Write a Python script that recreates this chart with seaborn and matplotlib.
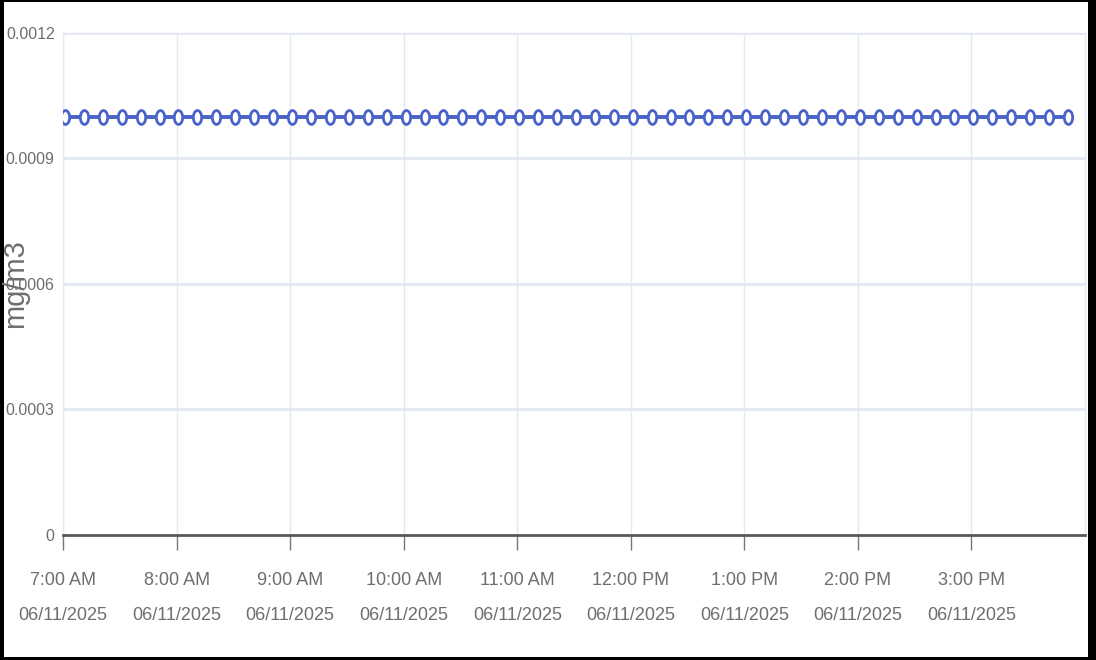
import pandas as pd
import seaborn as sns
import matplotlib.pyplot as plt
from matplotlib.path import Path
from matplotlib.patches import Rectangle

# readings, every 10 minutes on 06/11/2025
times = ['07:01', '07:11', '07:21', '07:31', '07:41', '07:51',
         '08:01', '08:11', '08:21', '08:31', '08:41', '08:51',
         '09:01', '09:11', '09:21', '09:31', '09:41', '09:51',
         '10:01', '10:11', '10:21', '10:31', '10:41', '10:51',
         '11:01', '11:11', '11:21', '11:31', '11:41', '11:51',
         '12:01', '12:11', '12:21', '12:31', '12:41', '12:51',
         '13:01', '13:11', '13:21', '13:31', '13:41', '13:51',
         '14:01', '14:11', '14:21', '14:31', '14:41', '14:51',
         '15:01', '15:11', '15:21', '15:31', '15:41', '15:51']
values = [0.001, 0.001, 0.001, 0.001, 0.001, 0.001,
          0.001, 0.001, 0.001, 0.001, 0.001, 0.001,
          0.001, 0.001, 0.001, 0.001, 0.001, 0.001,
          0.001, 0.001, 0.001, 0.001, 0.001, 0.001,
          0.001, 0.001, 0.001, 0.001, 0.001, 0.001,
          0.001, 0.001, 0.001, 0.001, 0.001, 0.001,
          0.001, 0.001, 0.001, 0.001, 0.001, 0.001,
          0.001, 0.001, 0.001, 0.001, 0.001, 0.001,
          0.001, 0.001, 0.001, 0.001, 0.001, 0.001]
day = '2025-06-11'
x_range = ['07:00', '16:00']
y_ticks = [0, 0.0003, 0.0006, 0.0009, 0.0012]
y_labels = ['0', '0.0003', '0.0006', '0.0009', '0.0012']
y_title = 'mg/m3'

df = pd.DataFrame({'time': pd.to_datetime([day + ' ' + t for t in times]),
                   'value': values})

sns.set_style('white')
plt.rcParams['font.family'] = ['Liberation Sans', 'DejaVu Sans']

text_col = '#6e6e6e'
grid_col = '#e4e8f4'
blue = '#4a63c8'

fig = plt.figure(figsize=(10.96, 6.6), dpi=100)
fig.patch.set_facecolor('black')
fig.patches.append(Rectangle((0.0037, 0.0045), 0.9893, 0.9925, transform=fig.transFigure,
                             facecolor='white', edgecolor='none', zorder=-10))
ax = fig.add_axes([0.0575, 0.1894, 0.9325, 0.7606])
ax.set_zorder(1)

# tall narrow marker like in the reference
circ = Path.unit_circle()
oval = Path(circ.vertices * [0.6, 1.0], circ.codes)

sns.lineplot(data=df, x='time', y='value', ax=ax, color=blue, linewidth=2.8,
             marker=oval, markersize=10, markerfacecolor='white',
             markeredgecolor=blue, markeredgewidth=2, zorder=3)

ax.set_xlim(pd.Timestamp(day + ' ' + x_range[0]), pd.Timestamp(day + ' ' + x_range[1]))
ax.set_ylim(0, 0.0012)
ax.set_yticks(y_ticks)
ax.set_yticklabels(y_labels)

hours = pd.to_datetime([day + ' %02d:00' % h for h in range(7, 16)])
ax.set_xticks(hours)
ax.set_xticklabels([h.strftime('%-I:%M %p') + '\n' + h.strftime('%m/%d/%Y') for h in hours],
                   linespacing=2.35)

ax.grid(axis='y', color=grid_col, linewidth=2)
ax.grid(axis='x', color=grid_col, linewidth=1)
ax.set_axisbelow(True)

for s in ['top', 'right', 'left']:
    ax.spines[s].set_color(grid_col)
    ax.spines[s].set_linewidth(1)
ax.spines['bottom'].set_color('#5a5a5a')
ax.spines['bottom'].set_linewidth(2)
ax.spines['bottom'].set_zorder(4)

ax.tick_params(axis='x', direction='out', length=11, width=1, color='#777777',
               labelsize=13, labelcolor=text_col, pad=16, bottom=True)
ax.tick_params(axis='y', length=0, labelsize=11.5, labelcolor=text_col, pad=6)

ax.set_xlabel('')
ax.set_ylabel(y_title, fontsize=21, color=text_col, va='center')
ax.yaxis.set_label_coords(-0.047, 0.5)

fig.savefig('out.png', dpi=100, facecolor=fig.get_facecolor())
